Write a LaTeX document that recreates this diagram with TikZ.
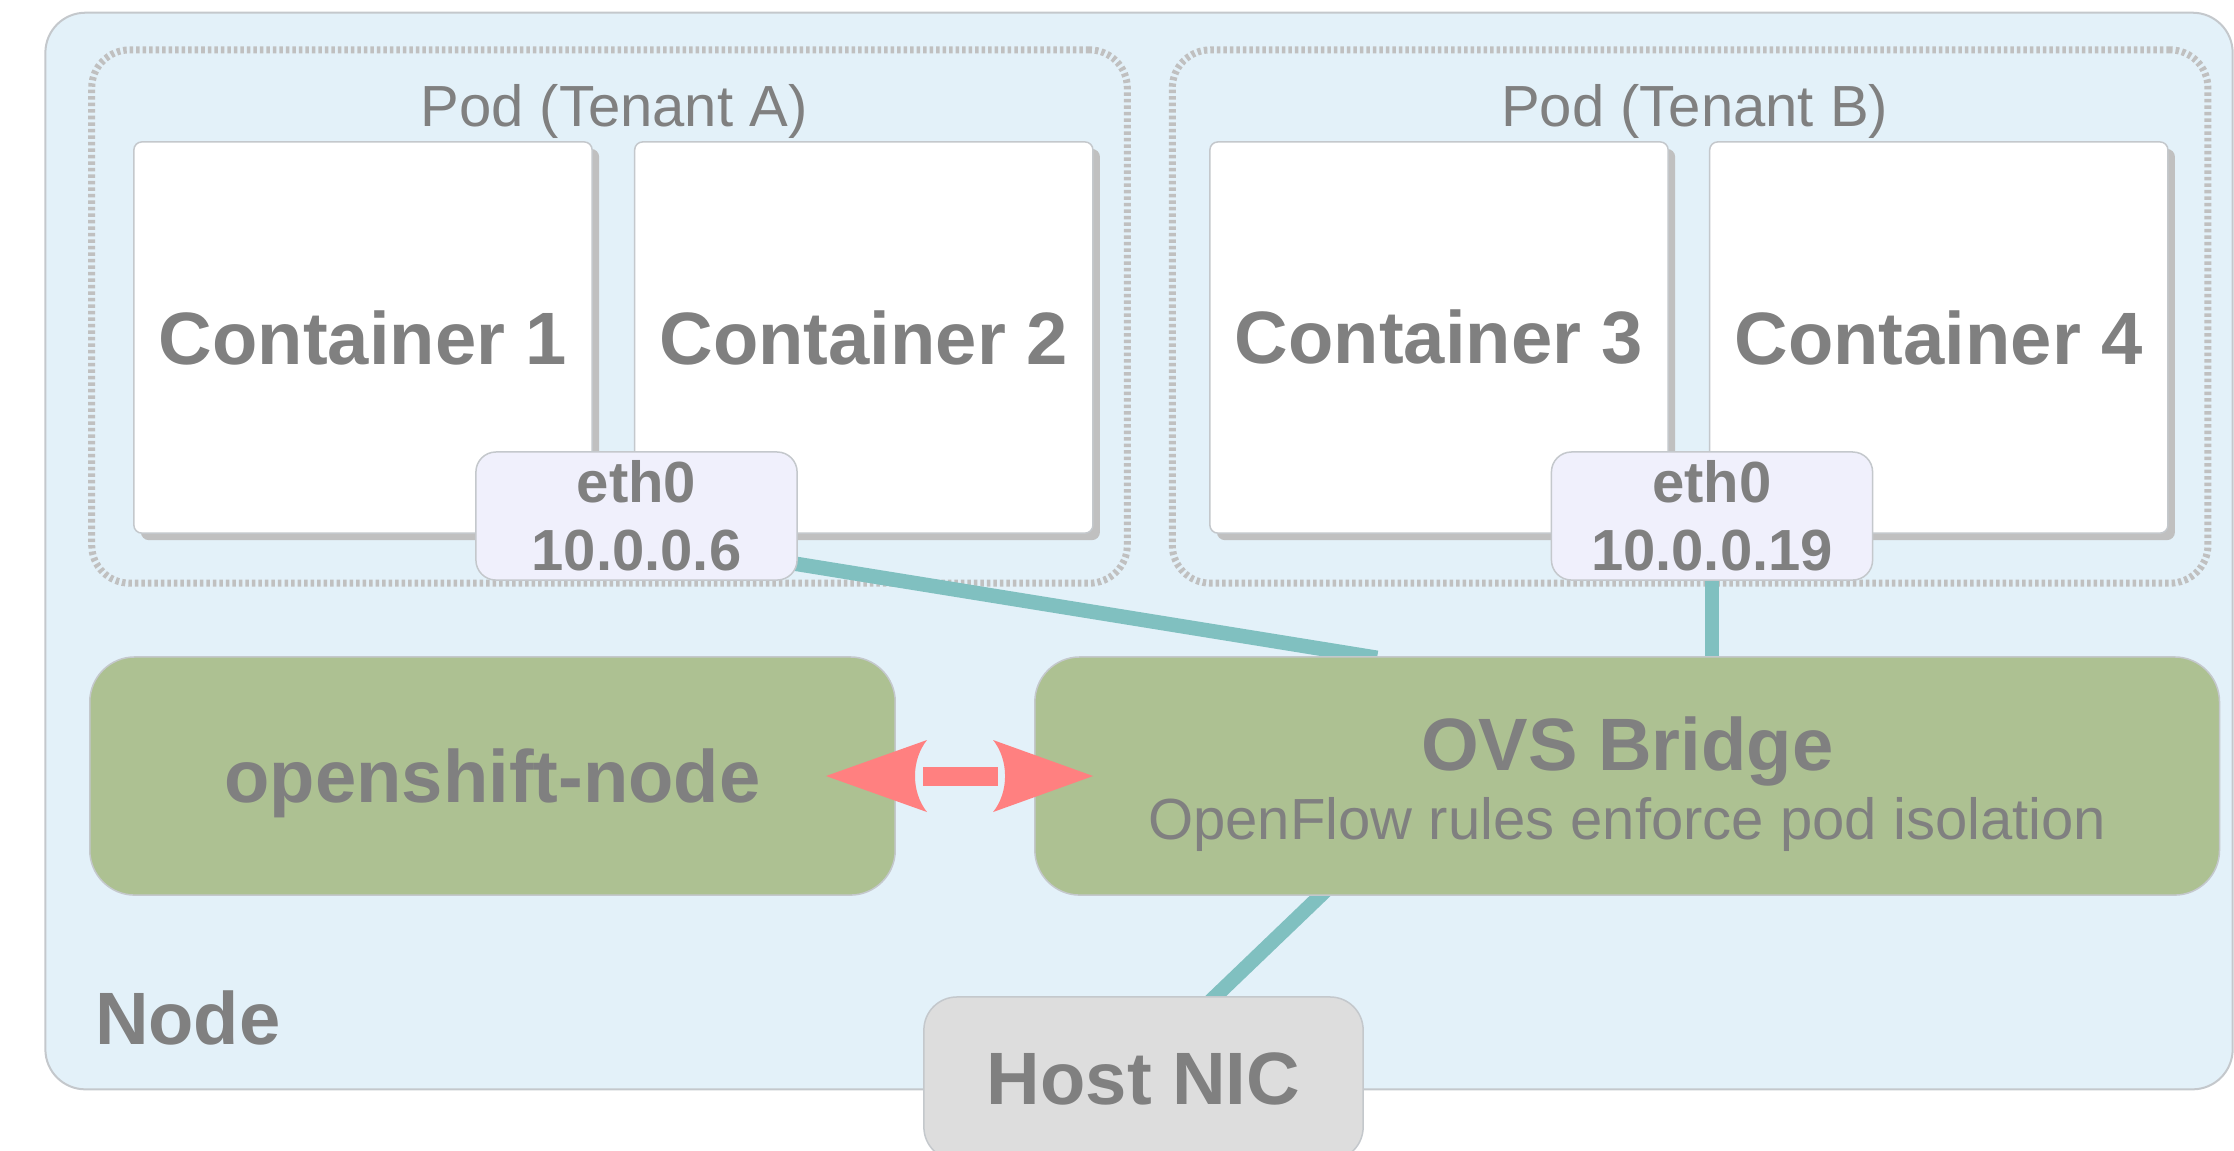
\documentclass[tikz,border=0pt]{standalone}
\usepackage{fontspec}
\setmainfont{Liberation Sans}
\usetikzlibrary{shapes,arrows,calc,positioning,shadows}
\pgfdeclarelayer{back}
\pgfdeclarelayer{wires}
\pgfsetlayers{back,wires,main}

\definecolor{nodeblue}{HTML}{E3F1F9}
\definecolor{framegray}{HTML}{C4C8CC}
\definecolor{dashgray}{HTML}{C0C0C0}
\definecolor{txtgray}{HTML}{808080}
\definecolor{ethfill}{HTML}{F0F0FC}
\definecolor{bridgegreen}{HTML}{ADC192}
\definecolor{nicgray}{HTML}{DDDDDD}
\definecolor{wireteal}{HTML}{80C0C0}
\definecolor{arrowred}{HTML}{FF8080}

\newcommand{\bigfont}{\fontsize{21.1}{25}\selectfont\bfseries}
\newcommand{\smallfont}{\fontsize{16.5}{19.9}\selectfont}
\newcommand{\ethfont}{\fontsize{16.5}{19.35}\selectfont\bfseries}

\tikzstyle{frame} = [draw=framegray, line width=0.02cm, fill=nodeblue, rounded corners=0.4cm, minimum width=21.86cm, minimum height=10.76cm]
\tikzstyle{pod} = [draw=dashgray, line width=0.07cm, dash pattern=on 0.035cm off 0.03cm, rounded corners=0.38cm, minimum width=10.35cm, minimum height=5.33cm]
\tikzstyle{label} = [text=txtgray, inner sep=0pt]
\tikzstyle{container} = [draw=framegray, line width=0.015cm, fill=white, rounded corners=0.08cm, minimum width=4.58cm, minimum height=3.91cm, text=txtgray, font=\bigfont, drop shadow={shadow xshift=0.07cm, shadow yshift=-0.07cm, fill=dashgray, opacity=1}]
\tikzstyle{eth} = [draw=framegray, line width=0.015cm, fill=ethfill, rounded corners=0.2cm, minimum width=3.21cm, minimum height=1.28cm, align=center, text=txtgray, font=\ethfont, inner sep=0pt]
\tikzstyle{greenbox} = [draw=framegray, line width=0.015cm, fill=bridgegreen, rounded corners=0.45cm, minimum height=2.38cm, text=txtgray, inner sep=0pt]
\tikzstyle{nic} = [draw=framegray, line width=0.015cm, fill=nicgray, rounded corners=0.33cm, minimum width=4.39cm, minimum height=1.63cm, text=txtgray, font=\bigfont, inner sep=0pt]
\tikzstyle{wire} = [draw=wireteal, line width=0.145cm, shorten >=-0.1cm, shorten <=-0.1cm]

\begin{document}
\begin{tikzpicture}[x=0.01cm, y=-0.01cm]
	\useasboundingbox (0,0) rectangle (2234,1150);

	\begin{pgfonlayer}{back}
		\node[frame] (nodebox) at (1139,551) {};
		\node[pod] (poda) at (609.5,316.5) {};
		\node[pod, right=0.38cm of poda] (podb) {};
	\end{pgfonlayer}

	\node[label, font=\smallfont, anchor=base] (titlea) at ($(poda.north)+(4.5,80)$) {Pod (Tenant A)};
	\node[label, font=\smallfont, anchor=base] (titleb) at ($(podb.north)+(4.5,80)$) {Pod (Tenant B)};

	\node[container] (c1) at (363,337.5) {Container 1};
	\node[container, right=0.41cm of c1] (c2) {Container 2};
	\node[container] (c3) at (1439,337.5) {Container 3};
	\node[container, right=0.40cm of c3] (c4) {Container 4};

	\node[eth] (etha) at (636.5,516) {eth0\\10.0.0.6};
	\node[eth] (ethb) at (1712,516) {eth0\\10.0.0.19};

	\node[greenbox, minimum width=8.05cm, font=\bigfont, text depth=0pt] (osn) at (492.5,776) {openshift-node};
	\node[greenbox, minimum width=11.84cm, right=1.38cm of osn, align=center, font=\smallfont] (ovs)
		{{\bigfont\rule{0pt}{19.9pt}OVS Bridge}\\OpenFlow rules enforce pod isolation};
	\node[nic] (nic) at (1143.5,1078.5) {Host NIC};

	\node[label, font=\bigfont, anchor=base west] (nodename) at ($(nodebox.south west)+(50,-46)$) {Node};

	% links to the bridge
	\begin{pgfonlayer}{wires}
		\draw[wire] ($(etha.center)+(0,22)$) -- ($(ovs.north)+(-260,0)$);
		\draw[wire] (ethb.center) -- (ethb.center |- ovs.north);
		\draw[wire] ($(ovs.south)+(-307,0)$) -- ($(nic.north)+(72,0)$);
	\end{pgfonlayer}

	% two-way arrow
	\coordinate (lt) at ($(osn.east)+(-70,0)$);
	\coordinate (rt) at ($(ovs.west)+(59,0)$);
	\fill[arrowred, shift={(lt)}] (0,0) -- (101,-36) .. controls (85,-16) and (85,16) .. (101,36) -- cycle;
	\fill[arrowred, shift={(rt)}] (0,0) -- (-100,-36) .. controls (-84,-16) and (-84,16) .. (-100,36) -- cycle;
	\draw[arrowred, line width=0.19cm] ($(lt)+(97,0)$) -- ($(rt)+(-95,0)$);
\end{tikzpicture}
\end{document}
